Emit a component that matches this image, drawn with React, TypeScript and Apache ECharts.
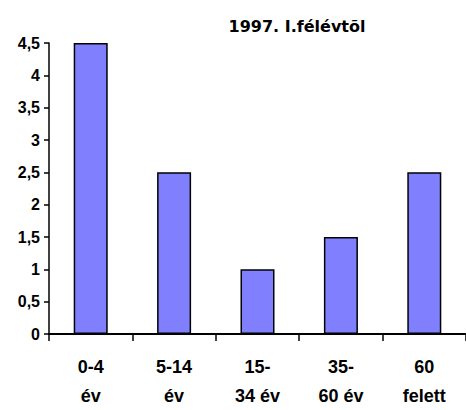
import React, { useEffect, useRef } from "react";
import * as echarts from "echarts";

const categories = ["0-4\név", "5-14\név", "15-\n34 év", "35-\n60 év", "60\nfelett"];
const values = [4.5, 2.5, 1, 1.5, 2.5];
const titleText = "1997. I.félévtõl";

const labelFont = "'Liberation Sans', Arial, sans-serif";

export default function App() {
  const ref = useRef<HTMLDivElement>(null);
  useEffect(() => {
    const chart = echarts.init(ref.current!, null, { renderer: "svg" });
    chart.setOption({
      animation: false,
      backgroundColor: "#ffffff",
      title: {
        text: titleText,
        left: 292,
        top: 13,
        textAlign: "center",
        textStyle: { fontFamily: "DejaVu Sans", fontWeight: "bold", fontSize: 16, color: "#000" },
      },
      grid: { left: 49, top: 43, width: 420, height: 291, containLabel: false },
      xAxis: {
        type: "category",
        data: categories,
        axisLine: { lineStyle: { color: "#000", width: 2 } },
        axisTick: { show: true, length: 7, lineStyle: { color: "#000", width: 1.5 } },
        axisLabel: {
          color: "#000",
          fontFamily: labelFont,
          fontWeight: "bold",
          fontSize: 18,
          lineHeight: 29,
          margin: 18,
          interval: 0,
        },
      },
      yAxis: {
        type: "value",
        min: 0,
        max: 4.5,
        interval: 0.5,
        splitLine: { show: false },
        axisLine: { show: true, lineStyle: { color: "#000", width: 1.5 } },
        axisTick: { show: true, length: 5, lineStyle: { color: "#000", width: 1.5 } },
        axisLabel: {
          color: "#000",
          fontFamily: labelFont,
          fontWeight: "bold",
          fontSize: 16,
          margin: 9,
          formatter: (v: number) => String(v).replace(".", ","),
        },
      },
      series: [
        {
          type: "bar",
          data: values,
          barWidth: 34,
          itemStyle: { color: "#8080ff", borderColor: "#000", borderWidth: 1.5 },
        },
      ],
    });
    return () => chart.dispose();
  }, []);
  return (
    <div
      ref={ref}
      style={{ position: "fixed", left: 0, top: 0, width: 466, height: 410 }}
    />
  );
}
